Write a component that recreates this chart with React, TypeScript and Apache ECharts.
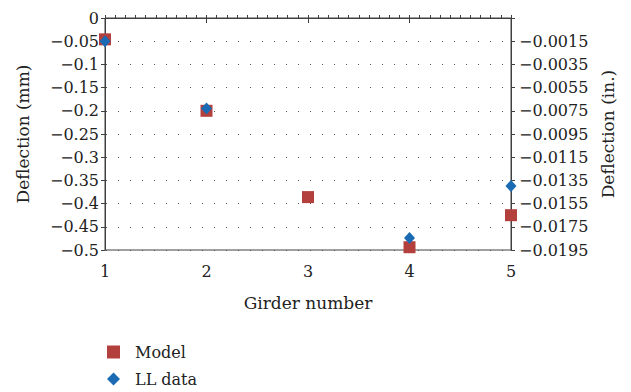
import React, { useEffect, useRef } from "react";
import * as echarts from "echarts";

const girders = [1, 2, 3, 4, 5];
const modelValues = [-0.046, -0.2, -0.386, -0.494, -0.425];
const llValues: (number | null)[] = [-0.05, -0.195, null, -0.474, -0.362];
const leftTickLabels = ["0", "−0.05", "−0.1", "−0.15", "−0.2", "−0.25", "−0.3", "−0.35", "−0.4", "−0.45", "−0.5"];
const rightTickLabels = ["", "−0.0015", "−0.0035", "−0.0055", "−0.0075", "−0.0095", "−0.0115", "−0.0135", "−0.0155", "−0.0175", "−0.0195"];

const FONT = "DejaVu Serif";
const AXIS_COLOR = "#404040";

export default function App() {
  const ref = useRef<HTMLDivElement>(null);
  useEffect(() => {
    if (!ref.current) return;
    const chart = echarts.init(ref.current, undefined, { renderer: "svg" });
    const idx = (v: number) => Math.round(-v / 0.05);
    chart.setOption({
      animation: false,
      backgroundColor: "#ffffff",
      textStyle: { fontFamily: FONT, color: "#222" },
      grid: {
        left: 105, right: 120, top: 18, bottom: 142,
        show: true, borderColor: AXIS_COLOR, borderWidth: 1,
      },
      legend: {
        orient: "vertical",
        left: 107, top: 343, height: 52, padding: 0,
        itemWidth: 13, itemHeight: 13, itemGap: 9,
        textStyle: { fontFamily: FONT, fontSize: 16, color: "#222", lineHeight: 18, padding: [0, 0, 0, 10] },
        data: [
          { name: "Model", icon: "rect" },
          { name: "LL data", icon: "diamond" },
        ],
      },
      xAxis: [
        {
          type: "value", min: 1, max: 5, interval: 1,
          name: "Girder number", nameLocation: "middle", nameGap: 44,
          nameTextStyle: { fontFamily: FONT, fontSize: 17, color: "#222" },
          axisLine: { show: true, lineStyle: { color: AXIS_COLOR, width: 1 } },
          axisTick: { show: true, length: 5, lineStyle: { color: AXIS_COLOR } },
          axisLabel: { fontFamily: FONT, fontSize: 16, color: "#222", margin: 13 },
          splitLine: { show: false },
        },
        {
          type: "value", min: 1, max: 5, interval: 0.1, position: "bottom",
          axisLine: { show: false },
          axisTick: { show: true, inside: true, length: 3, lineStyle: { color: AXIS_COLOR } },
          axisLabel: { show: false },
          splitLine: { show: false },
        },
      ],
      yAxis: [
        {
          type: "value", min: -0.5, max: 0, interval: 0.05,
          name: "Deflection (mm)", nameLocation: "middle", nameGap: 74,
          nameTextStyle: { fontFamily: FONT, fontSize: 17, color: "#222" },
          axisLine: { show: true, lineStyle: { color: AXIS_COLOR } },
          axisTick: { show: true, length: 4, lineStyle: { color: AXIS_COLOR } },
          axisLabel: {
            fontFamily: FONT, fontSize: 16, color: "#222", margin: 6,
            formatter: (v: number) => leftTickLabels[idx(v)] ?? "",
          },
          splitLine: { show: true, lineStyle: { color: "#555", width: 1, type: [1, 11], dashOffset: -13 } },
        },
        {
          type: "value", min: -0.5, max: 0, interval: 0.05, position: "right",
          name: "Deflection (in.)", nameLocation: "middle", nameGap: 88,
          nameRotate: 90,
          nameTextStyle: { fontFamily: FONT, fontSize: 17, color: "#222" },
          axisLine: { show: true, lineStyle: { color: AXIS_COLOR } },
          axisTick: { show: true, length: 4, lineStyle: { color: AXIS_COLOR } },
          axisLabel: {
            fontFamily: FONT, fontSize: 16, color: "#222", margin: 8,
            formatter: (v: number) => rightTickLabels[idx(v)] ?? "",
          },
          splitLine: { show: false },
        },
      ],
      series: [
        {
          name: "Model", type: "scatter", symbol: "rect", symbolSize: 12,
          itemStyle: { color: "#B3403D", opacity: 1 },
          data: girders.map((g, i) => [g, modelValues[i]]),
          z: 2,
        },
        {
          name: "LL data", type: "scatter", symbol: "diamond", symbolSize: [11, 12],
          itemStyle: { color: "#1A6BB3", opacity: 1 },
          data: girders.map((g, i) => (llValues[i] === null ? null : [g, llValues[i]])).filter((d) => d !== null),
          z: 3,
        },
      ],
    });
    return () => chart.dispose();
  }, []);
  return <div ref={ref} style={{ position: "fixed", left: 0, top: 0, width: 631, height: 392 }} />;
}
